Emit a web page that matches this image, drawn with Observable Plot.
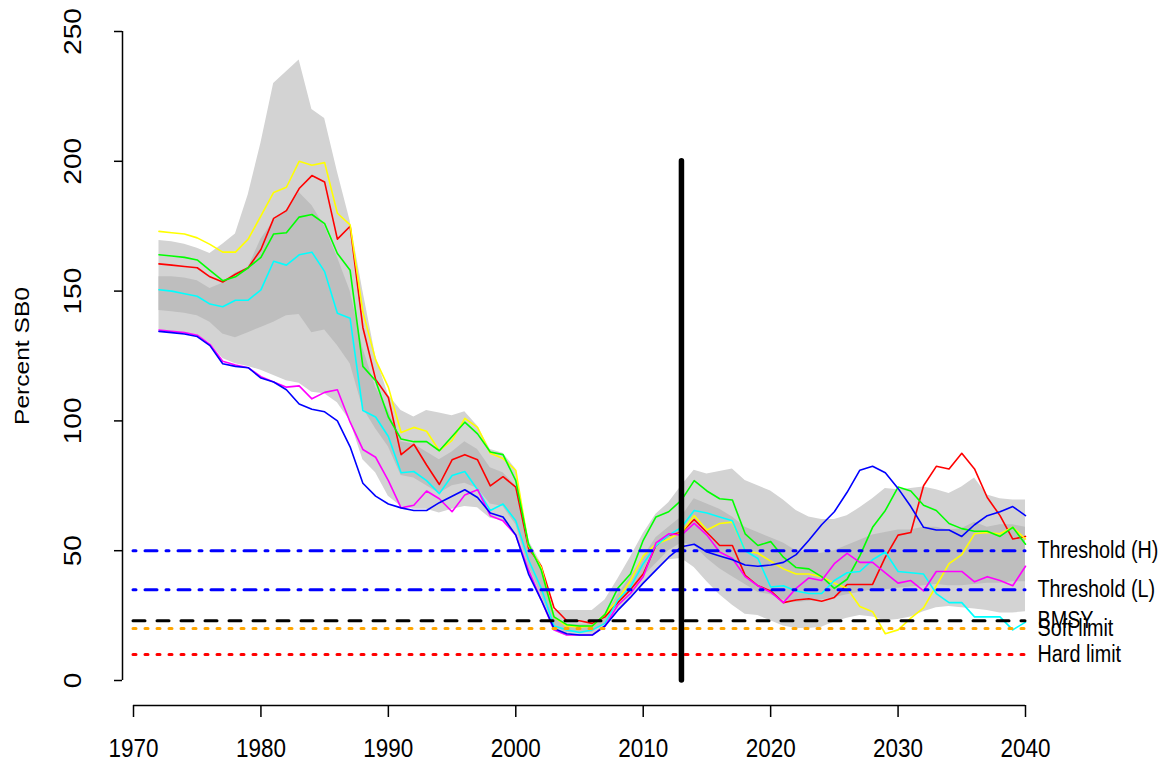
<!DOCTYPE html>
<html>
<head>
<meta charset="utf-8">
<script src="https://cdn.jsdelivr.net/npm/d3@7"></script>
<script src="https://cdn.jsdelivr.net/npm/@observablehq/plot@0.6"></script>
<style>
  html, body { margin: 0; padding: 0; background: #fff; }
  #chart svg { display: block; }
</style>
</head>
<body>
<div id="chart"></div>
<script>
// Spawning biomass as a percentage of SB0, annual values 1972–2040
const years = [1972,1973,1974,1975,1976,1977,1978,1979,1980,1981,1982,1983,1984,1985,1986,1987,1988,1989,1990,1991,
  1992,1993,1994,1995,1996,1997,1998,1999,2000,2001,2002,2003,2004,2005,2006,2007,2008,2009,2010,2011,
  2012,2013,2014,2015,2016,2017,2018,2019,2020,2021,2022,2023,2024,2025,2026,2027,2028,2029,2030,2031,
  2032,2033,2034,2035,2036,2037,2038,2039,2040];

// Outer (light) and inner (dark) uncertainty envelopes
const outerHi = [169.5,169,168,166.5,164.5,168,172,187,207,230,234.5,239,220,216.5,196,177,150,125,110,104,
  101.5,104,103,102,103.5,98,89,87.5,81.5,54,45,27,27,27,27,31,39,47.5,56.5,64,
  68.5,75,81,79.5,80.5,81.5,77,75,73,69.5,65.5,63,62,62,63.5,66.5,70,74,73.5,74,
  74.5,73.5,72,74.5,78,71.5,70,69.5,69.5];
const outerLo = [135,134.5,134,133,130,124,122,121,119.5,117.5,115.5,114.5,111,110.5,107,100,85,80,71,67,
  66,66,64.5,66,67,66.5,62.5,61.5,56.5,42,31,19,17,17,17,20.5,26.5,31.5,37,42,
  46.5,47,43.5,38,33,29,25.5,25,23,21,20,20,20.5,22.5,24,25,24.5,23,23.5,24.5,
  26.5,28,28.5,28,27.5,27,26,26,26.5];
const innerHi = [155.5,155.5,155,154,151,153,157,159,170,177,181,188,183,175,163,150,128,113,104,92,
  91,88,85,88,92,89,82,80,75,51.5,42,24.5,21.5,21.5,21.5,24.5,33,40,47.5,55,
  59,63,70,68,66,63,59,57,55,53,50,49,49,50,52,54,56,57,58,58,
  59,59,58,58.5,61,59,60,60,59];
const innerLo = [142.5,142,141.5,140.5,138,133.5,132,134,136,138,140.5,141,134,135,129,122,105,97,90,79,
  78,75,72,75,76,74,68,67,60,44,33,20.5,18.5,18.5,18.5,22,29,34,40,45,
  50,53,52,47,43,40,37,34,33,31,30,30.5,31,32,33,34,35,35,35.5,36,
  36.5,37,36.5,36.5,37,37.5,37.5,38,38];

// Individual trajectories
const red = [160.5,160,159.5,159,155.5,153.5,156.5,159,166,178,181,189.5,194.5,192,170,175,136,116,109,87,
  91,83,75.5,85,87,85,75,78.5,74.5,51,44,28,23,23,22,24.5,30,35,41,52,
  56,57,62,57,52,52,40.5,36.5,34.5,30,31,31.5,30.5,32,37,37,37,47.5,56,57,
  75,82.5,81.5,87.5,81.5,70.5,63.5,54.5,55.5];
const yellow = [173,172.5,172,170.5,168,165,165,170,179,188,190,200,198.5,199.5,180,175.5,142,123.5,113,95.5,
  97.5,96,88.5,92.5,101,97.5,87.5,85.5,81,52,43.5,24.5,21,20.5,21,25.5,31,38.5,48,52.5,
  54.5,57,63.5,58,60.5,61,50,49,46,43,41,41,40,37.5,35.5,28.5,26.5,18,19.5,24,
  28,36.5,45,48.5,56.5,57,56.5,59,54.5];
const green = [164,163.5,163,162,158,154,155.5,159,163,172,172.5,178.5,179.5,176,164.5,158,121,115.5,101.5,93,
  92,92,88.5,94,99.5,95,88,87,77,52.5,42.5,24.5,21.5,21,21,25.5,35.5,41,54,63,
  65,69.5,77,73,70,69.5,56.5,52,53.5,47.5,43.5,43,40,35.5,39,48,59,65.5,74.5,73,
  67.5,65.5,60.5,58.5,57.5,57.5,55.5,59,52.5];
const cyan = [150.5,150,149,148,145,144,146.5,146.5,150.5,161.5,160,164,165,157.5,141.5,139.5,104,101.5,94,80,
  80.5,77,72,79,80.5,73.5,65.5,68,61.5,46.5,35.5,21,19.5,18.5,19.5,22,31,36,45,52,
  56,59,65.5,64.5,63,61.5,50,47,36,36.5,34.5,33.5,33.5,38.5,41.5,42,46.5,49.5,42,41.5,
  41,33.5,30,30,24.5,24.5,24.5,19.5,22.5];
const magenta = [135,134.5,134,133,129.5,123,121.5,120.5,117,115,113,113.5,108.5,111,112,99.5,89,86,77,66.5,
  67.5,73,70,65,71.5,73.5,63.5,61.5,56,42.5,31,19.5,17.5,17.5,17.5,21,29,33.5,40,53,
  56.5,56,60.5,56,49.5,47,40,36.5,34,30,35.5,39.5,38.5,45,49,45.5,45.5,41.5,37.5,38.5,
  34.5,42,42,42,38,40,38.5,36.5,44];
const blue = [134.5,134,133.5,132.5,129,122,121,120.5,116.5,115,112,106.5,104.5,103.5,100,90,76,71,68,66.5,
  65.5,65.5,68.5,71,73.5,70.5,64.5,63,56,41,31,20,18,17.5,17.5,21,27,32,37.5,42.5,
  47.5,51.5,52.5,49.5,48,46.5,44.5,44,44.5,45.5,48.5,54,60,65,72.5,81,82.5,80,74,67,
  59,58,58,55.5,60,63.5,65,67,63.5];

const seriesNames = ["red", "yellow", "green", "cyan", "magenta", "blue"];
const seriesValues = [red, yellow, green, cyan, magenta, blue];
const seriesColors = ["#ff0000", "#ffff00", "#00ff00", "#00ffff", "#ff00ff", "#0000ff"];

// Reference levels
const refNames = ["Threshold (H)", "Threshold (L)", "BMSY", "Soft limit", "Hard limit"];
const refValues = [50, 35, 23, 20, 10];
const refColors = ["#0000ff", "#0000ff", "#000000", "#ffa500", "#ff0000"];
const refDash = ["3,9,12,9", "3,9,12,9", "12,12", "3,9", "3,9"];

const currentYear = 2013;
const xTicks = [1970, 1980, 1990, 2000, 2010, 2020, 2030, 2040];
const yTicks = [0, 50, 100, 150, 200, 250];

const rows = years.map((year, i) => ({
  year, outerHi: outerHi[i], outerLo: outerLo[i], innerHi: innerHi[i], innerLo: innerLo[i]
}));
const refs = refNames.map((name, i) => ({name, value: refValues[i], color: refColors[i], dash: refDash[i]}));

const font = "'Liberation Sans', Arial, Helvetica, sans-serif";

const marks = [
  Plot.areaY(rows, {x: "year", y1: "outerLo", y2: "outerHi", fill: "#d3d3d3"}),
  Plot.areaY(rows, {x: "year", y1: "innerLo", y2: "innerHi", fill: "#bebebe"}),
  ...seriesNames.map((name, k) => Plot.lineY(
    years.map((year, i) => ({year, value: seriesValues[k][i]})),
    {x: "year", y: "value", stroke: seriesColors[k], strokeWidth: 1.6}
  )),
  ...refs.map(r => Plot.ruleY([r], {
    y: "value", x1: 1970, x2: 2040, stroke: r.color, strokeWidth: 3,
    strokeDasharray: r.dash, strokeLinecap: "round"
  })),
  Plot.ruleX([currentYear], {y1: 0, y2: 200, stroke: "#000", strokeWidth: 5.5, strokeLinecap: "round"}),
  Plot.text(refs, {
    x: 2040, y: "value", text: "name", dx: 12, textAnchor: "start",
    fontSize: 19.8, fill: "#000"
  }),
  // axes
  Plot.ruleY([0], {x1: 1970, x2: 2040, dy: 25, stroke: "#000", strokeWidth: 1.5}),
  Plot.axisX({ticks: xTicks, tickFormat: d => String(d), tickSize: 12, dy: 25, label: null,
    tickPadding: 21, fontSize: 22.5, strokeWidth: 1.5, stroke: "#000", fill: "#000"}),
  Plot.ruleX([1970], {y1: 0, y2: 250, dx: -11, stroke: "#000", strokeWidth: 1.5}),
  Plot.axisY({ticks: yTicks, tickFormat: () => "", tickSize: 8, dx: -11, label: null,
    strokeWidth: 1.5, stroke: "#000"}),
  Plot.text(yTicks, {x: 1970, y: d => d, text: d => String(d), dx: -60, rotate: -90,
    fontSize: 24, fill: "#000"}),
  Plot.text(["Percent SB0"], {x: 1970, y: 125, text: d => d, dx: -111, rotate: -90,
    fontSize: 21, fill: "#000"})
];

const chart = Plot.plot({
  width: 1162,
  height: 769,
  marginLeft: 133,
  marginRight: 137,
  marginTop: 31,
  marginBottom: 89,
  x: {domain: [1970, 2040]},
  y: {domain: [0, 250]},
  style: {fontFamily: font, background: "#fff", color: "#000", overflow: "visible"},
  marks
});

// Typeset the lettering slightly taller than wide, scaling each label about its anchor
const stretch = 1.17;
d3.select(chart).selectAll("text").each(function () {
  const t = this.getAttribute("transform");
  if (t && /^translate\(/.test(t)) {
    this.setAttribute("transform", t.replace(/^(translate\([^)]*\))/, `$1 scale(1,${stretch})`));
  }
});

document.getElementById("chart").appendChild(chart);
</script>
</body>
</html>
